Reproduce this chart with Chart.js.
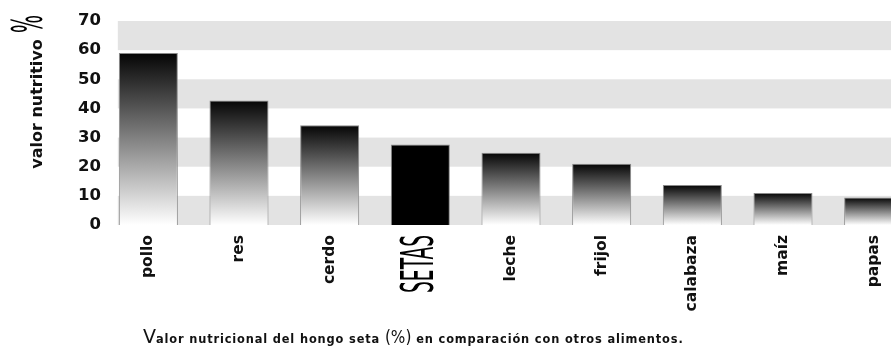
<!DOCTYPE html>
<html lang="es">
<head>
<meta charset="utf-8">
<title>Valor nutricional del hongo seta</title>
<script src="https://cdn.jsdelivr.net/npm/chart.js@4.4.0/dist/chart.umd.min.js"></script>
<style>
  html, body { margin: 0; padding: 0; background: #fff; overflow: hidden; }
  #wrap { position: relative; width: 920px; height: 350px; }
  #nutriChart { display: block; }
  #caption {
    position: absolute; left: 143px; top: 325px; white-space: nowrap;
    font: bold 11.4px "DejaVu Sans", sans-serif; color: #111; line-height: 22px;
    letter-spacing: 0.85px;
  }
  #caption .big { font: 19px "DejaVu Sans", sans-serif; letter-spacing: 0; }
  #caption .pct { font: 300 17px "Liberation Sans Narrow", "DejaVu Sans Condensed", sans-serif; letter-spacing: 0; }
</style>
</head>
<body>
<div id="wrap">
  <canvas id="nutriChart" width="920" height="350"></canvas>
  <div id="caption"><span class="big">V</span>alor nutricional del hongo seta <span class="pct">(%)</span> en comparación con otros alimentos.</div>
</div>
<script>
'use strict';

// ---- Data ----
const categories = ['pollo', 'res', 'cerdo', 'SETAS', 'leche', 'frijol', 'calabaza', 'maíz', 'papas'];
const nutritionValues = [59, 42.7, 34.2, 27.6, 24.8, 21, 13.7, 11, 9.4];
const highlightLabel = 'SETAS';
const yMin = 0;
const yMax = 70;
const yStep = 10;
const axisTitle = 'valor nutritivo';
const axisUnit = '%';

const BAND = '#e3e3e3';
const CONDENSED = '"Liberation Sans Narrow", "DejaVu Sans Condensed", sans-serif';
const highlightIdx = categories.indexOf(highlightLabel);

// ---- Bar fill: black at the top fading to white at the base ----
function barFill(ctx) {
  if (ctx.type !== 'data') return '#000';
  if (ctx.dataIndex === highlightIdx) return '#000';
  const { chart } = ctx;
  const y = chart.scales.y;
  if (!y || !chart.chartArea) return '#555';
  const top = y.getPixelForValue(ctx.parsed.y);
  const base = y.getPixelForValue(0);
  const g = chart.ctx.createLinearGradient(0, top, 0, base);
  g.addColorStop(0, '#050505');
  g.addColorStop(1, '#ffffff');
  return g;
}

// ---- Alternating grey bands behind the bars ----
const bandPlugin = {
  id: 'bands',
  beforeDatasetsDraw(chart) {
    const { ctx, chartArea, scales } = chart;
    const first = chart.getDatasetMeta(0).data[0];
    const x0 = first.x - first.width / 2 - 1;
    ctx.save();
    ctx.fillStyle = BAND;
    for (let v = yMin; v < yMax; v += yStep * 2) {
      const top = scales.y.getPixelForValue(v + yStep);
      const bot = scales.y.getPixelForValue(v);
      ctx.fillRect(x0, top, chartArea.right - x0, bot - top);
    }
    ctx.restore();
  }
};

// ---- Rotated text squeezed to a given length (condensed look) ----
function drawSqueezed(ctx, text, baseX, endY, size, length) {
  ctx.save();
  ctx.font = `${size}px ${CONDENSED}`;
  const w = ctx.measureText(text).width;
  ctx.translate(baseX, endY);
  ctx.rotate(-Math.PI / 2);
  ctx.scale(length / w, 1);
  ctx.textAlign = 'right';
  ctx.textBaseline = 'alphabetic';
  ctx.fillStyle = '#000';
  ctx.fillText(text, 0, 0);
  ctx.restore();
}

// ---- Axis title, unit sign and the highlighted category label ----
const labelPlugin = {
  id: 'labels',
  afterDraw(chart) {
    const { ctx, scales } = chart;
    // y axis title
    ctx.save();
    ctx.translate(42, 104);
    ctx.rotate(-Math.PI / 2);
    ctx.font = 'bold 16px "DejaVu Sans", sans-serif';
    ctx.fillStyle = '#111';
    ctx.textAlign = 'center';
    ctx.textBaseline = 'alphabetic';
    ctx.fillText(axisTitle, 0, 0);
    ctx.restore();
    // unit sign above the title
    drawSqueezed(ctx, axisUnit, 42, 15, 43, 18);
    // highlighted category
    const px = scales.x.getPixelForTick(highlightIdx);
    drawSqueezed(ctx, highlightLabel, px + 12.5, 235, 44, 58);
  }
};

new Chart(document.getElementById('nutriChart'), {
  type: 'bar',
  data: {
    labels: categories,
    datasets: [{
      data: nutritionValues,
      backgroundColor: barFill,
      borderColor: '#8a8a8a',
      borderWidth: 1,
      categoryPercentage: 1,
      barPercentage: 0.651,
    }],
  },
  options: {
    responsive: false,
    animation: false,
    devicePixelRatio: 1,
    layout: { padding: { top: 21, right: 1, bottom: 0, left: 0 } },
    plugins: {
      legend: { display: false },
      tooltip: { enabled: false },
    },
    scales: {
      x: {
        grid: { display: false, drawTicks: false },
        border: { display: false },
        afterFit: (s) => { s.height = 125; },
        ticks: {
          autoSkip: false,
          minRotation: 90,
          maxRotation: 90,
          padding: 10,
          color: (c) => c.index === highlightIdx ? 'rgba(0,0,0,0)' : '#111',
          font: { family: '"DejaVu Sans", sans-serif', size: 15.5, weight: 'bold' },
        },
      },
      y: {
        min: yMin,
        max: yMax,
        grid: { display: false, drawTicks: false },
        border: { display: false },
        afterFit: (s) => { s.width = 103; },
        ticks: {
          stepSize: yStep,
          padding: 2,
          color: '#111',
          font: { family: '"DejaVu Sans", sans-serif', size: 16.5, weight: 'bold' },
        },
      },
    },
  },
  plugins: [bandPlugin, labelPlugin],
});
</script>
</body>
</html>
